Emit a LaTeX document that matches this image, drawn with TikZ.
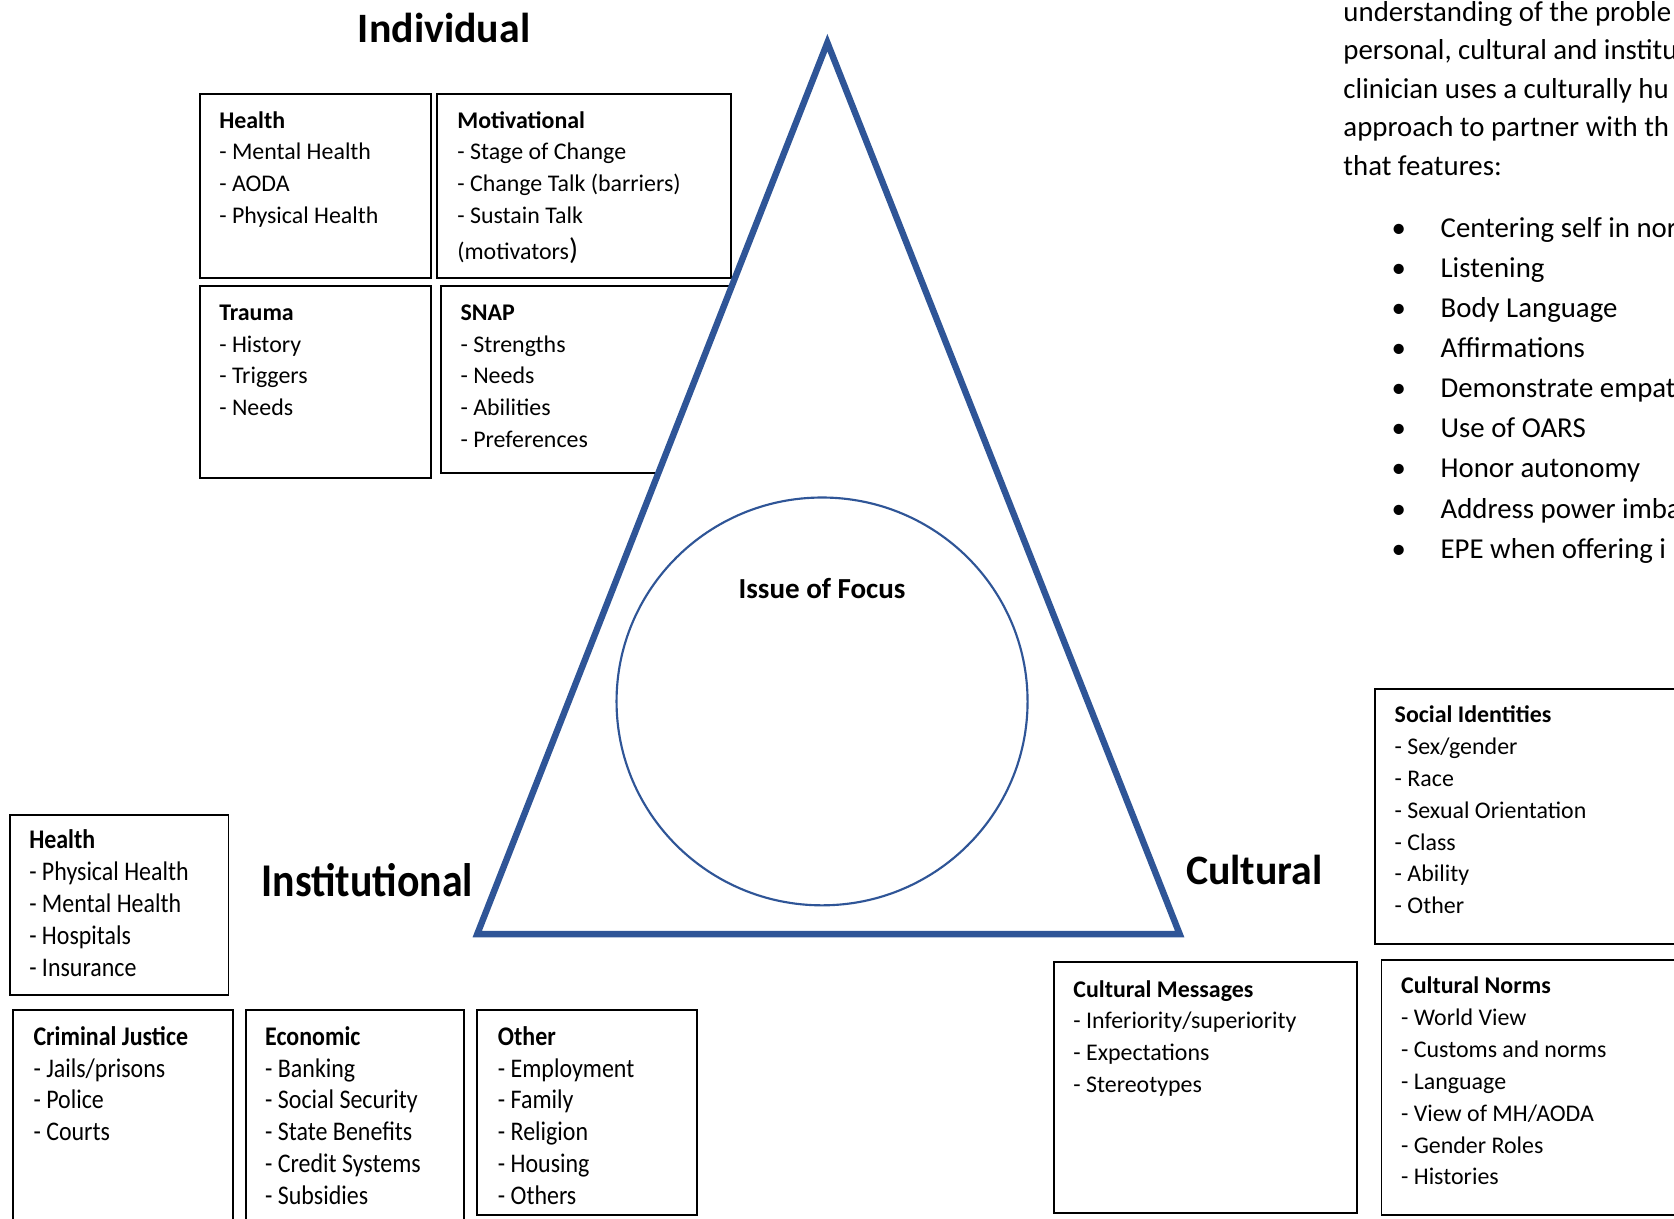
\documentclass[tikz,border=0pt]{standalone}
\usepackage{fontspec}
\setmainfont{Carlito}
\newfontfamily\condfont[FakeStretch=0.89]{Carlito}
\definecolor{triblue}{RGB}{47,85,151}
\tikzset{
  lbl/.style={anchor=base west, inner sep=0pt, font=\fontsize{11.2}{13}\selectfont},
  ttl/.style={anchor=base west, inner sep=0pt, font=\fontsize{11.2}{13}\selectfont\bfseries},
  clbl/.style={anchor=base west, inner sep=0pt, font=\condfont\fontsize{12.6}{14}\selectfont},
  cttl/.style={anchor=base west, inner sep=0pt, font=\condfont\fontsize{12.6}{14}\selectfont\bfseries},
  frame/.style={draw=black, line width=0.9pt},
  heading/.style={inner sep=0pt, font=\fontsize{19.6}{22}\selectfont\bfseries},
  condheading/.style={inner sep=0pt, font=\condfont\fontsize{22}{24}\selectfont\bfseries},
  para/.style={anchor=base west, inner sep=0pt, font=\fontsize{13.5}{16}\selectfont},
}
% #1 name, #2 title style, #3 item style, #4 x, #5 title baseline, #6 title, #7 items
\newcommand\listbox[7]{%
  \node[#2] (#1-t) at (#4,#5) {#6};
  \foreach \itm [count=\i] in {#7} \node[#3] (#1-\i) at (#4,{#5+\i*29.8}) {\itm};
}
\begin{document}
\begin{tikzpicture}[x=0.5pt,y=-0.5pt]
\clip (0,0) rectangle (1568,1141);
\fill[white] (0,0) rectangle (1568,1141);

% ---------- Individual ----------
\node[heading] (indiv) at (416,26) {Individual};
\draw[frame] (187,88) rectangle (404,260);
\draw[frame] (409,88) rectangle (685,260);
\draw[frame] (187,268) rectangle (404,448);
\draw[frame] (413,268) rectangle (760,443);
\listbox{ih}{ttl}{lbl}{205}{120}{Health}{- Mental Health,- AODA,- Physical Health}
\listbox{im}{ttl}{lbl}{428}{120}{Motivational}{- Stage of Change,- Change Talk (barriers),- Sustain Talk}
\node[lbl] (im-4) at (428,243) {(motivators{\fontsize{14}{14}\selectfont )}};
\listbox{it}{ttl}{lbl}{205}{300}{Trauma}{- History,- Triggers,- Needs}
\listbox{is}{ttl}{lbl}{431}{300}{SNAP}{- Strengths,- Needs,- Abilities,- Preferences}

% ---------- Triangle and circle ----------
\coordinate (apex) at (775,40);
\coordinate (bl) at (447,875);
\coordinate (br) at (1105,875);
\draw[triblue, line width=3pt, fill=white, line join=miter] (apex) -- (bl) -- (br) -- cycle;
\draw[triblue, line width=1pt] (770,657) ellipse [x radius=96.25pt, y radius=95.5pt];
\node[inner sep=0pt, font=\fontsize{13.6}{16}\selectfont\bfseries] (focus) at (770,551) {Issue of Focus};

% ---------- Institutional ----------
\node[condheading] (inst) at (344,824) {Institutional};
\draw[frame] (9,763) rectangle (214,932);
\draw[frame] (12,946) rectangle (218,1170);
\draw[frame] (230,946) rectangle (435,1170);
\draw[frame] (447,946) rectangle (653,1138);
\listbox{nh}{cttl}{clbl}{27}{795}{Health}{- Physical Health,- Mental Health,- Hospitals,- Insurance}
\listbox{nc}{cttl}{clbl}{31}{979}{Criminal Justice}{- Jails/prisons,- Police,- Courts}
\listbox{ne}{cttl}{clbl}{248}{979}{Economic}{- Banking,- Social Security,- State Benefits,- Credit Systems,- Subsidies}
\listbox{no}{cttl}{clbl}{466}{979}{Other}{- Employment,- Family,- Religion,- Housing,- Others}

% ---------- Cultural ----------
\node[heading] (cult) at (1175,815) {Cultural};
\draw[frame] (1288,645) rectangle (1600,884);
\draw[frame] (1294,899) rectangle (1600,1138);
\draw[frame] (987,901) rectangle (1271,1136);
\listbox{cs}{ttl}{lbl}{1306}{677}{Social Identities}{- Sex/gender,- Race,- Sexual Orientation,- Class,- Ability,- Other}
\listbox{cn}{ttl}{lbl}{1312}{931}{Cultural Norms}{- World View,- Customs and norms,- Language,- View of MH/AODA,- Gender Roles,- Histories}
\listbox{cm}{ttl}{lbl}{1005}{934}{Cultural Messages}{- Inferiority/superiority,- Expectations,- Stereotypes}

% ---------- Text at top right ----------
\node[para] (p1) at (1258,20) {understanding of the proble};
\node[para] (p2) at (1258,56) {personal, cultural and institu};
\node[para] (p3) at (1258,92) {clinician uses a culturally hu};
\node[para] (p4) at (1258,128) {approach to partner with th};
\node[para] (p5) at (1258,164) {that features:};
\foreach \txt [count=\i] in {Centering self in nor,Listening,Body Language,Affirmations,Demonstrate empat,Use of OARS,Honor autonomy,Address power imba,EPE when offering i}{
  \node[para] (bul-\i) at (1303,{212+(\i-1)*37.6+10}) {•};
  \node[para] (itm-\i) at (1349,{212+(\i-1)*37.6+10}) {\txt};
}
\end{tikzpicture}
\end{document}
